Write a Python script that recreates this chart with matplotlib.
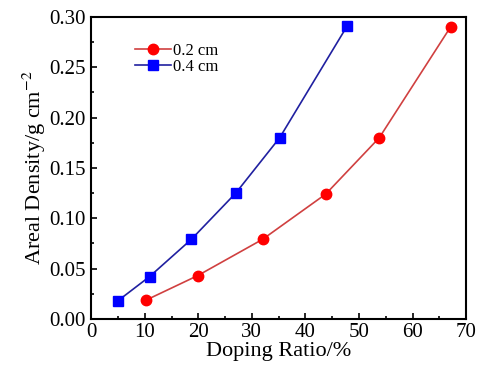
import matplotlib
matplotlib.use("Agg")
import matplotlib.pyplot as plt
from matplotlib.ticker import MultipleLocator, FormatStrFormatter

plt.rcParams['font.family'] = ['Liberation Serif', 'DejaVu Serif']
plt.rcParams['mathtext.fontset'] = 'stix'

# Doping ratio (%) vs areal density (g cm^-2)
ratio_02 = [10.2, 19.9, 32.0, 43.8, 53.8, 67.1]
density_02 = [0.0185, 0.043, 0.079, 0.124, 0.180, 0.290]
ratio_04 = [5.0, 10.9, 18.7, 27.0, 35.2, 47.8]
density_04 = [0.018, 0.042, 0.079, 0.125, 0.180, 0.291]
labels = ['0.2 cm', '0.4 cm']

fig = plt.figure(figsize=(4.8, 3.76), dpi=100)
ax = fig.add_axes([0.190, 0.152, 0.781, 0.803])

ax.plot(ratio_02, density_02, '-', color='#d04040', lw=1.2,
        marker='o', ms=7.5, mfc='#ff0000', mec='#ff0000', label=labels[0])
ax.plot(ratio_04, density_04, '-', color='#2020a0', lw=1.2,
        marker='s', ms=6.5, mfc='#0000ff', mec='#0000ff', label=labels[1])

ax.set_xlim(0, 70)
ax.set_ylim(0, 0.30)
ax.xaxis.set_major_locator(MultipleLocator(10))
ax.xaxis.set_minor_locator(MultipleLocator(5))
ax.yaxis.set_major_locator(MultipleLocator(0.05))
ax.yaxis.set_minor_locator(MultipleLocator(0.025))
ax.yaxis.set_major_formatter(FormatStrFormatter('%.2f'))
ax.tick_params(which='both', direction='in', labelsize=15, width=1.2)
ax.tick_params(which='major', length=4)
ax.tick_params(axis='y', which='major', pad=4)
ax.tick_params(axis='x', which='major', pad=3)
ax.tick_params(which='minor', length=2.5)
for s in ax.spines.values():
    s.set_linewidth(1.5)

ax.set_xlabel('Doping Ratio/%', fontsize=16, labelpad=0)
ax.set_ylabel('Areal Density/g cm$^{-2}$', fontsize=16, labelpad=1)

ax.legend(loc='upper left', bbox_to_anchor=(0.098, 0.935), frameon=False,
          fontsize=12, handlelength=2.2, handletextpad=0.1,
          labelspacing=0.0, borderaxespad=0)

fig.savefig('out.png', dpi=100)
